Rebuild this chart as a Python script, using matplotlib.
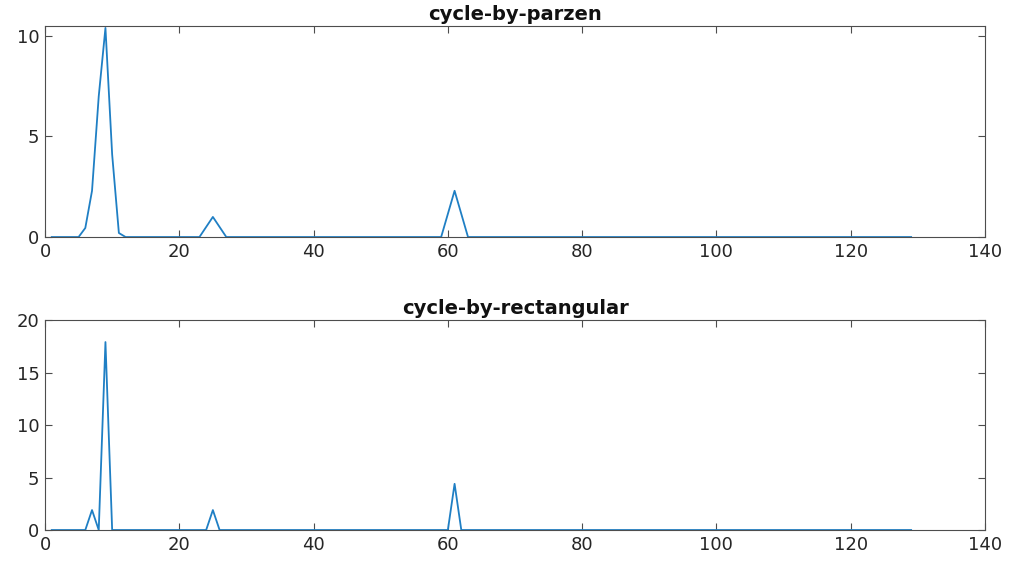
import numpy as np
import matplotlib.pyplot as plt

# x runs over the cycle index 1..129
x = np.arange(1, 130)

# cycle-by-parzen: non-zero values only (index -> value)
parzen_idx = [6, 7, 8, 9, 10, 11, 24, 25, 26, 60, 61, 62]
parzen_val = [0.45, 2.3, 7.0, 10.4, 4.1, 0.2, 0.5, 1.0, 0.5, 1.15, 2.3, 1.15]

# cycle-by-rectangular: non-zero values only
rect_idx = [7, 9, 25, 61]
rect_val = [1.9, 17.9, 1.9, 4.4]

parzen = np.zeros(len(x))
parzen[np.array(parzen_idx) - 1] = parzen_val
rect = np.zeros(len(x))
rect[np.array(rect_idx) - 1] = rect_val

line_color = '#1f7fc4'
axis_color = '#4d4d4d'

plt.rcParams['font.family'] = 'DejaVu Sans'

fig = plt.figure(figsize=(10.14, 5.63), dpi=100)
ax1 = fig.add_axes([0.0444, 0.579, 0.927, 0.375])
ax2 = fig.add_axes([0.0444, 0.0586, 0.927, 0.373])

def style(ax, ylim, yticks, title):
  ax.set_xlim(0, 140)
  ax.set_ylim(*ylim)
  ax.set_xticks(range(0, 141, 20))
  ax.set_yticks(yticks)
  ax.tick_params(direction='in', top=True, right=True, length=5, width=0.8,
                 colors=axis_color, labelcolor='#262626', labelsize=13, pad=4)
  for s in ax.spines.values():
    s.set_color(axis_color)
    s.set_linewidth(0.8)
  ax.set_title(title, fontweight='bold', fontsize=14, color='#111111', pad=4)

ax1.plot(x, parzen, '-', color=line_color, linewidth=1.3)
style(ax1, (0, 10.5), [0, 5, 10], 'cycle-by-parzen')

ax2.plot(x, rect, '-', color=line_color, linewidth=1.3)
style(ax2, (0, 20), [0, 5, 10, 15, 20], 'cycle-by-rectangular')

fig.savefig('out.png', dpi=100)
